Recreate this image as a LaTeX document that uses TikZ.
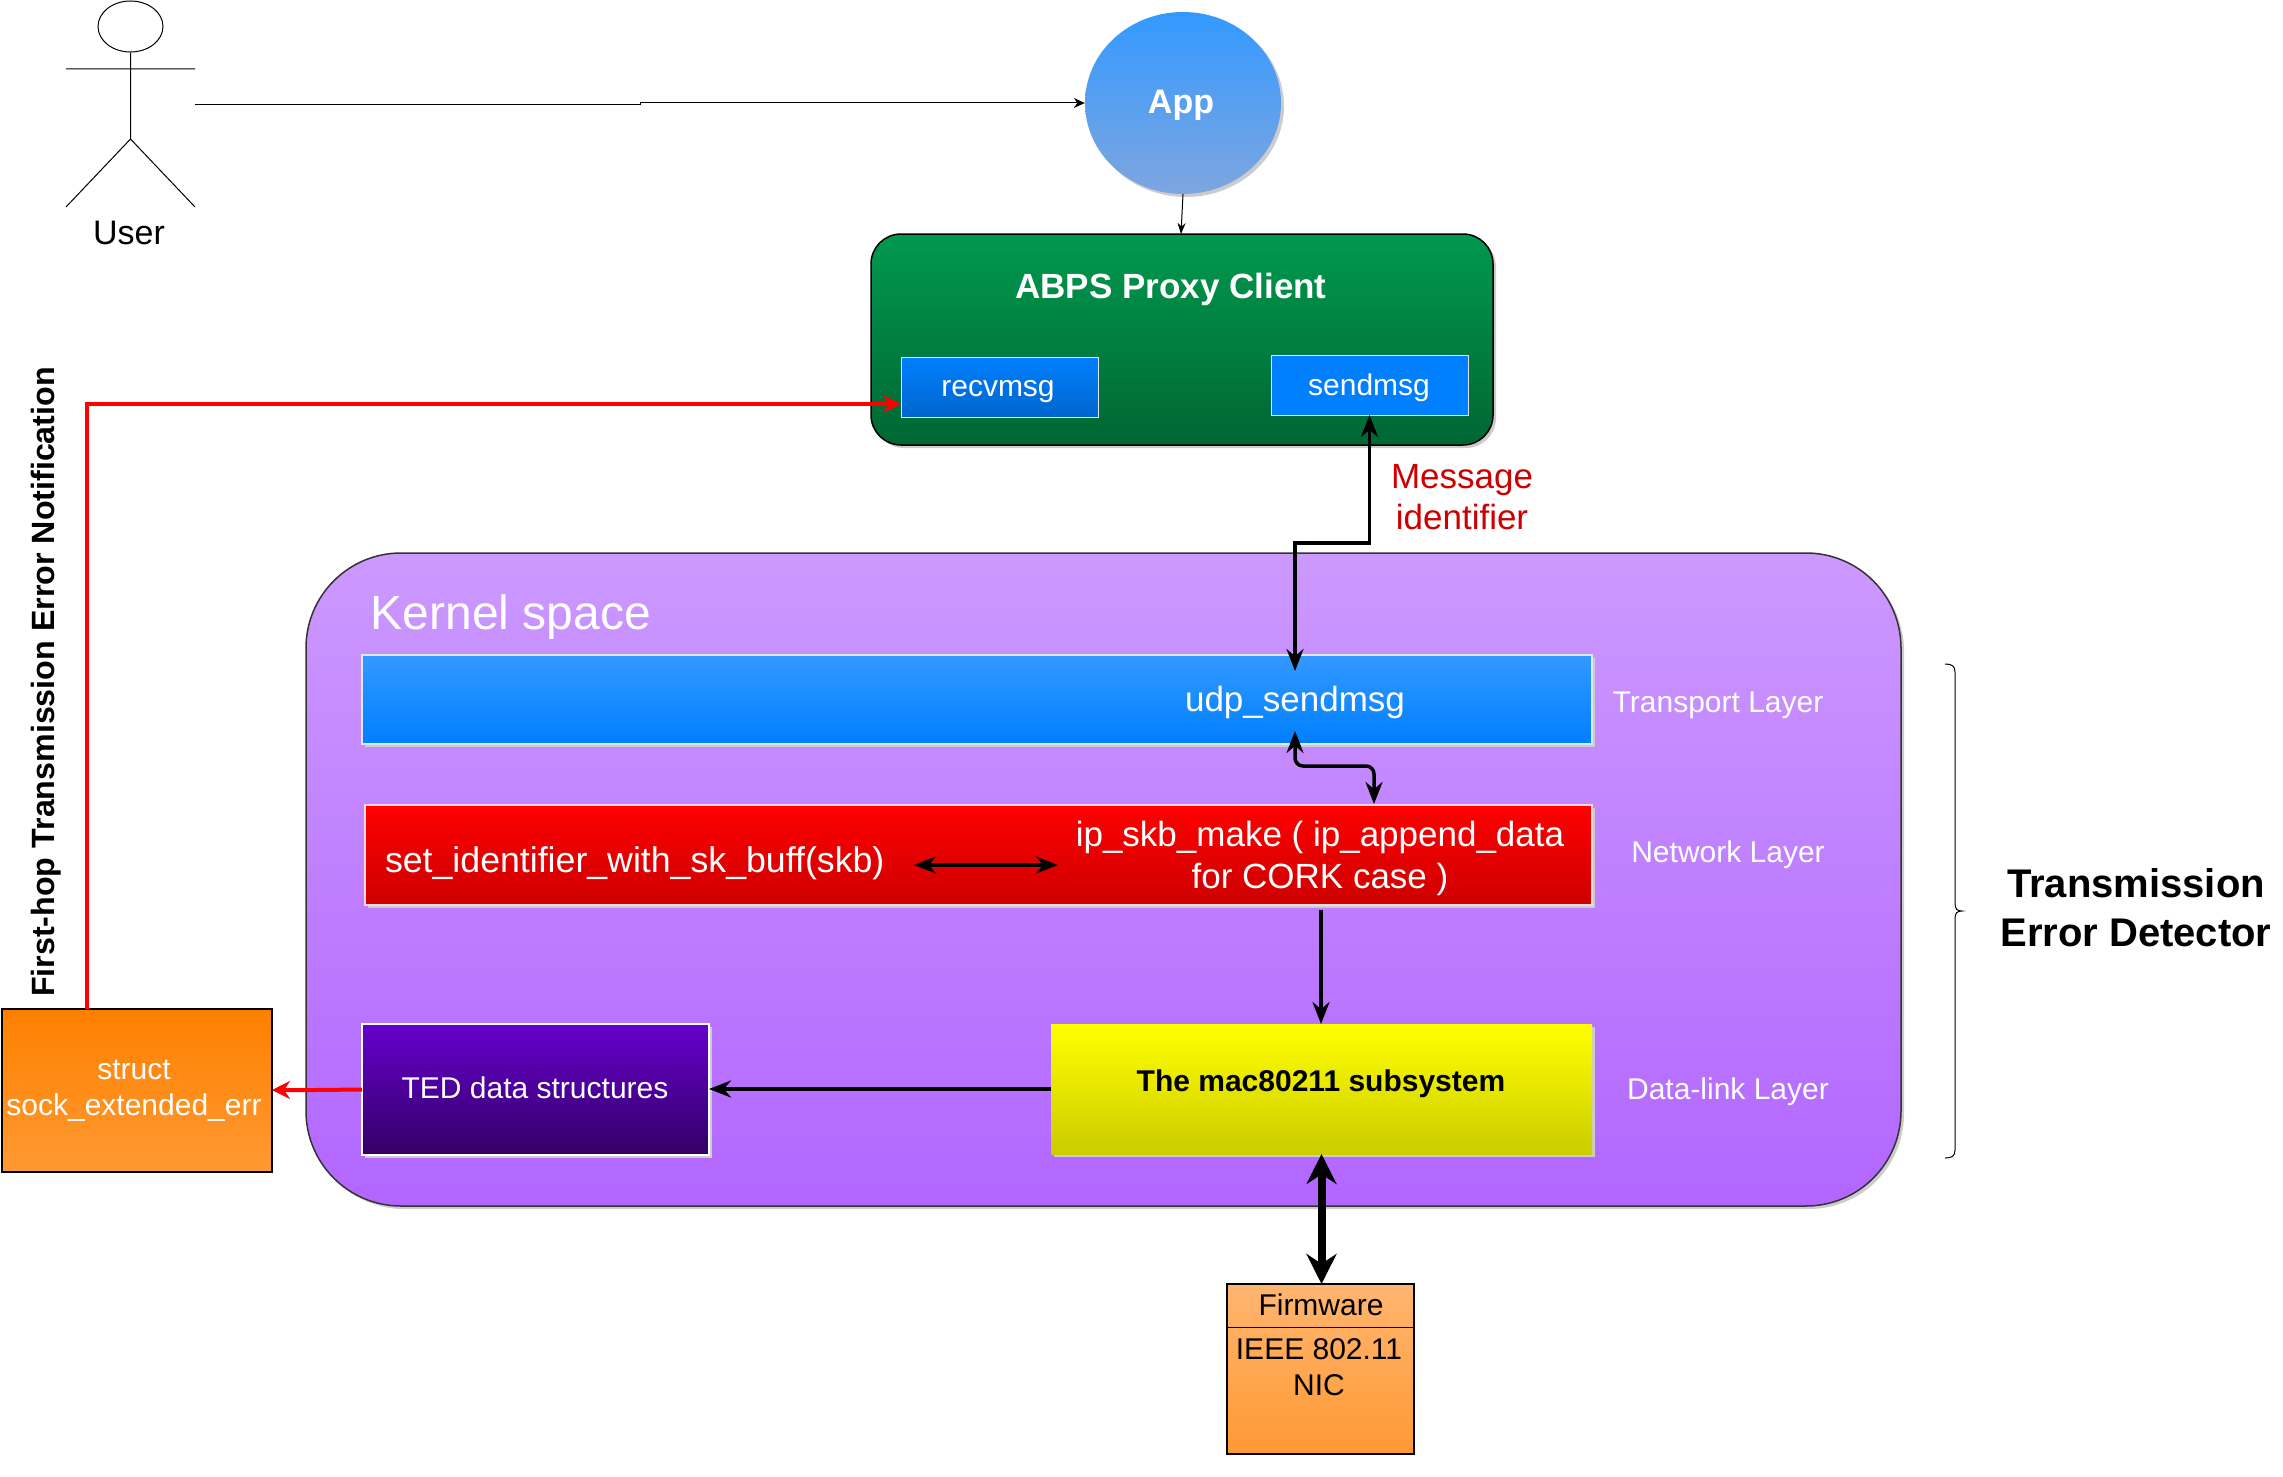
\documentclass[tikz,border=0pt]{standalone}
\usepackage{fontspec}
\setmainfont{Liberation Sans}
\usetikzlibrary{arrows.meta,shapes.geometric,shadows,calc}
\newcommand{\fsz}[1]{\fontsize{#1}{#1}\selectfont}
\definecolor{ksT}{HTML}{CC99FF}\definecolor{ksB}{HTML}{B266FF}
\definecolor{msg}{HTML}{CC0000}
\definecolor{appT}{HTML}{3399FF}\definecolor{appB}{HTML}{7EA6E0}
\definecolor{prT}{HTML}{00994D}\definecolor{prB}{HTML}{006633}
\definecolor{azure}{HTML}{007FFF}\definecolor{azureD}{HTML}{0066CC}\definecolor{azureL}{HTML}{3399FF}
\definecolor{redT}{HTML}{FF0000}\definecolor{redB}{HTML}{CC0000}
\definecolor{yelT}{HTML}{FFFF00}\definecolor{yelB}{HTML}{CCCC00}
\definecolor{vioT}{HTML}{6600CC}\definecolor{vioB}{HTML}{330066}
\definecolor{orT}{HTML}{FF8000}\definecolor{orB}{HTML}{FF9933}
\definecolor{fwT}{HTML}{FFB570}
\definecolor{edge}{HTML}{DDE8FF}
\tikzset{
  shad/.style={drop shadow={shadow xshift=3pt,shadow yshift=-3pt,fill=black!20,opacity=1}},
  box/.style={rectangle,anchor=north west,inner sep=0pt,outer sep=0pt},
  lbl/.style={inner sep=0pt,outer sep=0pt,align=center,text=white},
  conn/.style={line width=3.5pt,-{Stealth[length=22pt,width=17pt]}},
  connb/.style={line width=3.5pt,{Stealth[length=22pt,width=17pt]}-{Stealth[length=22pt,width=17pt]}},
  redc/.style={line width=4pt,draw=redT,-{Stealth[length=18pt,width=18pt]}},
}
\begin{document}
\begin{tikzpicture}[x=1pt,y=-1pt]
\useasboundingbox (0,0) rectangle (2283,1477);
% kernel
\node[box,minimum width=1595pt,minimum height=653pt,rounded corners=95pt,draw=black!80,line width=1.5pt,top color=ksT,bottom color=ksB,shad] (kernel) at (306,553) {};
% actor
\node[ellipse,draw=black,line width=1pt,minimum width=65pt,minimum height=51pt,inner sep=0pt] (head) at (130.5,26.5) {};
\coordinate (armL) at (66,69); \coordinate (armR) at (195,69);
\coordinate (hip) at (130.5,139); \coordinate (legL) at (66,207); \coordinate (legR) at (195,207);
\draw[line width=1pt] (head.south) -- (hip) (armL) -- (armR) (legL) -- (hip) -- (legR);
\node[lbl,text=black,font=\fsz{34}] (user) at (129,233) {User};
% app
\node[ellipse,minimum width=196pt,minimum height=182pt,inner sep=0pt,top color=appT,bottom color=appB,shad] (app) at (1183,103) {};
\node[lbl,font=\fsz{34}\bfseries] (appt) at (1181,105) {App};
% proxy
\node[box,minimum width=622pt,minimum height=211pt,rounded corners=30pt,draw=black,line width=1.5pt,top color=prT,bottom color=prB,shad] (proxy) at (871,234) {};
\node[lbl,font=\fsz{35}\bfseries] (proxyt) at (1171,289) {ABPS Proxy Client};
\node[box,minimum width=197pt,minimum height=60pt,draw=edge,line width=1pt,top color=azure,bottom color=azureD] (recv) at (901,357) {};
\node[lbl,font=\fsz{30}] (recvt) at (998,392) {recvmsg};
\node[box,minimum width=197pt,minimum height=60pt,draw=edge,line width=1pt,fill=azure] (send) at (1271,355) {};
\node[lbl,font=\fsz{30}] (sendt) at (1369,388) {sendmsg};
% layers
\node[box,minimum width=1230pt,minimum height=89pt,draw=edge,line width=1.5pt,top color=azureL,bottom color=azure,shad] (udp) at (362,655) {};
\node[lbl,font=\fsz{35}] (udpt) at (1295,702) {udp\_sendmsg};
\node[box,minimum width=1227pt,minimum height=100pt,draw=white!85!red,line width=1.5pt,top color=redT,bottom color=redB,shad] (net) at (365,805) {};
\node[lbl,font=\fsz{35.7},anchor=west] (sett) at (385,863) {set\_identifier\_with\_sk\_buff(skb)};
\node[lbl,font=\fontsize{35}{42}\selectfont] (ipt) at (1320,858) {ip\_skb\_make ( ip\_append\_data\\for CORK case )};
\node[box,minimum width=541pt,minimum height=130pt,draw=none,top color=yelT,bottom color=yelB,shad] (mac) at (1051,1024) {};
\node[lbl,text=black,font=\fsz{30}\bfseries] (mact) at (1321,1084) {The mac80211 subsystem};
\node[box,minimum width=347pt,minimum height=131pt,draw=white!85,line width=1.5pt,top color=vioT,bottom color=vioB,shad] (ted) at (362,1024) {};
\node[lbl,font=\fsz{30}] (tedt) at (535,1088) {TED data structures};
\node[lbl,font=\fsz{30}] (l1) at (1718,705) {Transport Layer};
\node[lbl,font=\fsz{30}] (l2) at (1728,855) {Network Layer};
\node[lbl,font=\fsz{30}] (l3) at (1728,1092) {Data-link Layer};
\node[lbl,font=\fsz{48}] (ks) at (511,617) {Kernel space};
% orange
\node[box,minimum width=270pt,minimum height=163pt,draw=black,line width=1.5pt,top color=orT,bottom color=orB] (sock) at (2,1009) {};
\node[lbl,font=\fontsize{30}{36}\selectfont] (sockt) at (134,1091) {struct\\sock\_extended\_err};
% firmware
\node[box,minimum width=187pt,minimum height=170pt,draw=black,line width=1.5pt,top color=fwT,bottom color=orB] (fw) at (1227,1284) {};
\coordinate (fwdl) at (1227,1327); \coordinate (fwdr) at (1414,1327);
\draw[line width=1pt] (fwdl) -- (fwdr);
\node[lbl,text=black,font=\fsz{30}] (fwt) at (1321,1305) {Firmware};
\node[lbl,text=black,font=\fontsize{30}{36}\selectfont] (nict) at (1319,1367) {IEEE 802.11\\NIC};
% side texts
\node[lbl,text=msg,font=\fontsize{35}{41}\selectfont] (msgt) at (1462,497) {Message\\identifier};
\node[lbl,text=black,font=\fontsize{40}{49}\selectfont\bfseries] (ted2) at (2136,908) {Transmission\\Error Detector};
\node[lbl,text=black,font=\fsz{32.2}\bfseries,rotate=90] (fh) at (46,682) {First-hop Transmission Error Notification};
% brace
\draw[line width=1pt] (1945,664) .. controls (1952,664) and (1955,666) .. (1955,672) -- (1955,903) .. controls (1955,909) and (1957,911) .. (1962,911) .. controls (1957,911) and (1955,913) .. (1955,919) -- (1955,1150) .. controls (1955,1156) and (1952,1158) .. (1945,1158);
% connectors
\coordinate (uj1) at (640,104.5); \coordinate (uj2) at (640,103);
\draw[line width=1pt,-{Stealth[length=11pt,width=10pt]}] (armR|-uj1) -- (uj1) -- (uj2) -- (app.west);
\coordinate (pin) at (1181,234);
\draw[line width=1pt,-{Stealth[length=11pt,width=8pt]}] (app.south) -- (pin);
\coordinate (rc) at (87,404);
\draw[redc] (rc|-sock.north) -- (rc) -- (recv.west|-rc);
\coordinate (sj) at (1295,543);
\coordinate (udptop) at (1295,671);
\draw[connb] (send.south) |- (sj) -- (udptop);
\coordinate (ud1) at (1295,731); \coordinate (ud2) at (1374,766); \coordinate (ud3) at (1374,804);
\draw[connb,rounded corners=8pt] (ud1) |- (ud2) -- (ud3);
\coordinate (ia) at (914,865); \coordinate (ib) at (1058,865);
\draw[connb] (ia) -- (ib);
\coordinate (nm) at (1321,910);
\draw[conn] (nm) -- (nm|-mac.north);
\coordinate (tm) at (1051,1089);
\draw[conn] (tm) -- (ted.east|-tm);
\coordinate (tj) at (315,1090);
\draw[redc] (ted.west) -- (tj) -- (sock.east|-tj);
\draw[line width=8pt,{Stealth[length=30pt,width=30pt]}-{Stealth[length=30pt,width=30pt]}] (mac.south) -- (mac.south|-fw.north);
\end{tikzpicture}
\end{document}
